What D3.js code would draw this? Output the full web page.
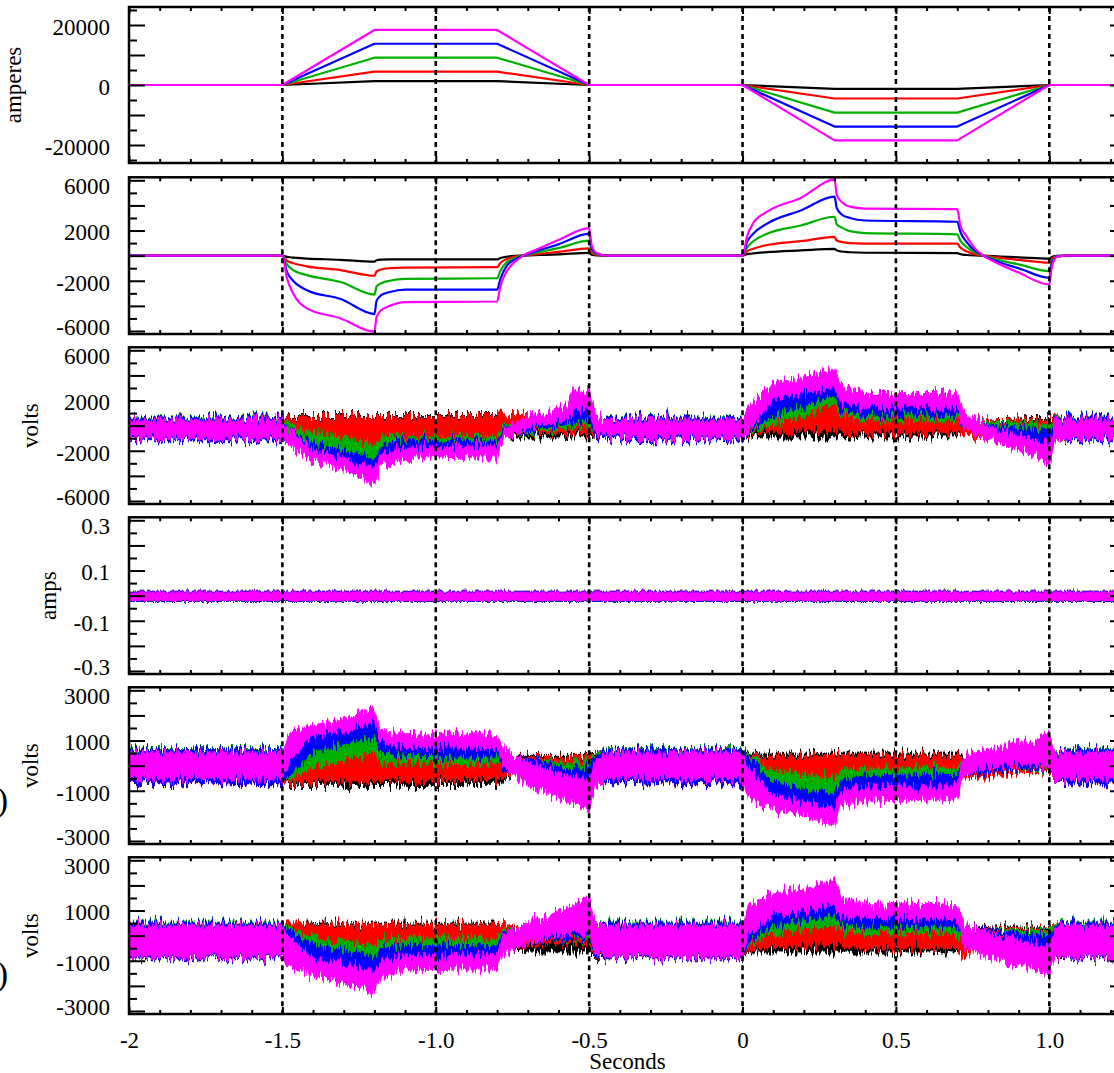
<!DOCTYPE html>
<html><head><meta charset="utf-8">
<script src="https://cdn.jsdelivr.net/npm/d3@7"></script>
<style>
body{margin:0;background:#fff}
svg{display:block}
</style>
</head><body>
<svg id="c" width="1114" height="1073"></svg>
<script>
// ---------------- DATA ----------------
const seriesNames = ["black","red","green","blue","magenta"];
const seriesColors = ["#000000","#ff0000","#00b000","#0000ff","#ff00ff"];
const dashTimes = [-1.5,-1.0,-0.5,0,0.5,1.0];
const xTickValues = [-2,-1.5,-1,-0.5,0,0.5,1];
const xTickLabels = ["-2","-1.5","-1.0","-0.5","0","0.5","1.0"];

// Panel 1: amperes
const T1 = [-2,-1.5,-1.2,-0.8,-0.5,0,0.3,0.7,1.0,1.25];
const amp1Black   = [0,0,1300,1300,0,0,-1300,-1300,0,0];
const amp1Red     = [0,0,4450,4450,0,0,-4500,-4500,0,0];
const amp1Green   = [0,0,9100,9100,0,0,-9200,-9200,0,0];
const amp1Blue    = [0,0,13750,13750,0,0,-13850,-13850,0,0];
const amp1Magenta = [0,0,18350,18350,0,0,-18450,-18450,0,0];
const yLabels1 = [20000,0,-20000];

// Panel 2
const T2 = [-2,-1.5,-1.485,-1.465,-1.42,-1.31,-1.2,-1.193,-1.178,-1.15,-1.1,-0.8,-0.79,-0.77,-0.74,-0.715,-0.66,-0.6,-0.5,-0.492,-0.475,-0.44,
            0,0.015,0.035,0.08,0.19,0.3,0.307,0.322,0.35,0.4,0.7,0.71,0.73,0.76,0.785,0.84,0.9,1.0,1.008,1.025,1.06,1.25];
const p2Black   = [0,0,-100,-160,-230,-330,-480,-370,-320,-300,-300,-300,-200,-90,-20,0,50,100,220,80,20,0,
                   0,120,180,280,420,540,420,330,270,230,200,120,50,10,0,-70,-130,-240,-100,-10,0,0];
const p2Red     = [0,0,-400,-600,-850,-1150,-1600,-1250,-1100,-1000,-950,-920,-600,-280,-80,0,150,300,580,200,50,0,
                   0,350,550,850,1150,1500,1200,1100,1000,960,950,650,350,100,0,-180,-330,-560,-230,-30,0,0];
const p2Green   = [0,0,-700,-1150,-1550,-2100,-3100,-2450,-2200,-2000,-1850,-1800,-1250,-550,-170,0,300,600,1200,420,100,0,
                   0,650,1150,1750,2400,3100,2500,2250,1950,1800,1700,1200,700,220,0,-380,-700,-1230,-500,-60,0,0];
const p2Blue    = [0,0,-1300,-2000,-2750,-3450,-4650,-3600,-3150,-2900,-2700,-2700,-1900,-850,-280,0,450,900,1750,650,150,0,
                   0,1100,1750,2550,3600,4700,3800,3300,3000,2800,2700,1900,1100,350,0,-550,-1000,-1760,-700,-80,0,0];
const p2Magenta = [0,0,-1800,-3000,-4200,-5000,-6050,-4900,-4350,-4000,-3700,-3650,-2500,-1300,-450,0,600,1250,2200,850,200,0,
                   0,1550,2600,3500,4600,6050,4850,4300,3900,3750,3700,2400,1550,500,0,-700,-1350,-2300,-900,-100,0,0];
const yLabels2 = [6000,2000,-2000,-6000];

// Noisy panels share these knot times (envelopes of each trace's noise band)
const TN = [-2,-1.5,-1.48,-1.4,-1.3,-1.2,-1.18,-1.1,-0.8,-0.78,-0.7,-0.57,-0.55,-0.5,-0.48,-0.44,
            0,0.02,0.1,0.2,0.3,0.32,0.4,0.7,0.72,0.8,0.95,1.0,1.02,1.06,1.25];

// Panel 3 (volts)
const p3BlackLo   = [-1100,-1100,-700,-700,-700,-700,-700,-700,-700,-900,-900,-900,-900,-900,-1000,-1100,
                     -1100,-900,-900,-900,-900,-900,-900,-900,-760,-100,40,40,-1000,-1100,-1100];
const p3BlackHi   = [600,600,800,800,800,800,800,800,800,300,-100,-100,-100,-100,500,600,
                     600,-100,-100,-100,-100,-100,-100,-100,440,440,570,570,550,600,600];
const p3RedLo     = [-1150,-1150,-800,-1400,-1600,-2000,-1500,-1300,-1300,-700,-620,-620,-620,-620,-1000,-1150,
                     -1150,-620,-490,-420,-360,-490,-620,-620,-890,-1100,-100,40,-1000,-1150,-1150];
const p3RedHi     = [650,650,700,700,700,700,700,700,700,950,800,40,40,40,600,650,
                     650,570,840,1250,1630,1100,840,840,440,440,440,440,600,650,650];
const p3GreenLo   = [-1100,-1100,-900,-1500,-2000,-2610,-1700,-1400,-1400,-560,-600,-150,-100,40,-900,-1100,
                     -1100,-490,40,900,1630,840,440,440,-100,-490,-1150,-1290,-900,-1100,-1100];
const p3GreenHi   = [700,700,175,-620,-860,-1690,-1020,-890,-800,40,170,900,970,1100,500,700,
                     700,700,1770,2100,2560,1370,970,970,440,300,170,40,500,700,700];
const p3BlueLo    = [-1200,-1200,-1300,-2200,-2800,-3500,-2400,-1900,-1800,-760,-400,100,175,440,-900,-1200,
                     -1200,-360,700,1600,2430,1230,840,840,-220,-760,-1690,-2040,-600,-1200,-1200];
const p3BlueHi    = [650,650,-300,-1420,-2000,-2610,-1690,-1150,-1150,-220,370,1150,1230,1370,500,650,
                     650,1100,2560,2900,3490,2030,1630,1630,570,40,-220,-360,440,650,650];
const p3MagentaLo = [-1000,-1000,-1500,-2880,-3550,-4600,-3150,-2600,-2480,-1150,-100,400,1200,1150,-600,-1000,
                     -1000,-360,2170,2560,3090,1900,1500,1430,-220,-1150,-2350,-3145,-1100,-1000,-1000];
const p3MagentaHi = [450,450,-300,-1950,-2600,-3400,-2300,-1800,-1550,-360,700,1600,2850,2850,1000,450,
                     450,1500,3360,3900,4550,3220,2560,2560,1100,-100,-1150,-1420,400,450,450];
const yLabels3 = [6000,2000,-2000,-6000];

// Panel 4 (amps)
const T4 = [-2,1.25];
const p4OtherLo = [-0.022,-0.022];
const p4OtherHi = [0.017,0.017];
const p4MagentaLo = [-0.019,-0.019];
const p4MagentaHi = [0.014,0.014];
const yLabels4 = [0.3,0.1,-0.1,-0.3];

// Panel 5 (volts)
const p5BlackLo   = [-700,-700,-782,-782,-782,-782,-782,-782,-782,-584,80,80,80,80,-650,-700,
                     -700,0,0,0,0,0,0,0,-300,-250,-250,-250,-650,-700,-700];
const p5BlackHi   = [650,650,-100,-100,-100,-100,-100,-100,-100,410,410,410,410,410,550,650,
                     650,500,500,500,500,500,500,500,400,150,150,150,550,650,650];
const p5RedLo     = [-720,-720,-716,-650,-620,-584,-584,-584,-584,-451,-120,13,13,13,-700,-720,
                     -720,-700,-700,-750,-800,-600,-600,-600,-500,-400,-250,-200,-700,-720,-720];
const p5RedHi     = [600,600,345,13,200,610,146,146,146,345,345,345,345,345,500,600,
                     600,420,400,400,400,400,400,400,300,250,300,300,550,600,600];
const p5GreenLo   = [-650,-650,-584,-53,212,543,146,80,80,-186,-318,-430,-451,-584,-650,-650,
                     -650,-700,-800,-950,-1150,-650,-500,-500,-300,-250,-150,-100,-650,-650,-650];
const p5GreenHi   = [680,680,477,543,875,1140,543,371,345,280,212,150,146,146,500,680,
                     680,400,-200,-350,-500,-200,-100,-100,200,250,350,450,550,680,680];
const p5BlueLo    = [-700,-700,-451,543,875,1140,543,371,345,-252,-385,-560,-584,-650,-700,-700,
                     -700,-900,-1300,-1500,-1800,-1100,-950,-900,-400,-300,-100,0,-700,-700,-700];
const p5BlueHi    = [650,650,740,1270,1500,1740,940,740,680,345,280,-110,-120,-53,400,650,
                     650,300,-700,-900,-1100,-550,-400,-350,150,250,500,600,500,650,650];
const p5MagentaLo = [-520,-520,100,1205,1405,1740,940,740,680,-53,-780,-1450,-1513,-1712,-849,-520,
                     -520,-1300,-1700,-2000,-2400,-1550,-1400,-1350,-400,-150,100,-100,-700,-520,-520];
const p5MagentaHi = [540,540,1300,1600,1870,2270,1405,1270,1270,740,80,-420,-451,-584,212,540,
                     540,-100,-1200,-1450,-1800,-1000,-850,-800,400,650,1000,1300,450,540,540];
const yLabels5 = [3000,1000,-1000,-3000];

// Panel 6 (volts)
const p6BlackLo   = [-920,-920,-200,-200,-200,-200,-200,-200,-200,-500,-650,-650,-650,-650,-900,-920,
                     -920,-650,-650,-650,-650,-650,-650,-650,146,146,146,146,-900,-920,-920];
const p6BlackHi   = [450,450,500,500,500,500,500,500,500,300,0,0,0,0,450,450,
                     450,-100,-100,-100,-100,-100,-100,-100,345,345,345,345,450,450,450];
const p6RedLo     = [-900,-900,-800,-800,-900,-1000,-800,-800,-800,-600,-400,-300,-300,-300,-850,-900,
                     -900,-600,-450,-420,-400,-450,-517,-517,-900,-186,13,13,-850,-900,-900];
const p6RedHi     = [500,500,500,450,450,450,450,450,450,450,300,250,250,250,500,500,
                     500,400,600,700,800,500,300,300,212,280,280,280,500,500,500];
const p6GreenLo   = [-880,-880,-800,-700,-900,-1100,-700,-600,-600,-350,-250,-150,-150,-100,-800,-880,
                     -880,-400,100,250,400,200,80,80,-400,-318,-584,-584,-850,-880,-880];
const p6GreenHi   = [540,540,400,-100,-300,-400,-150,-100,-100,250,350,520,550,650,500,540,
                     540,600,900,1050,1200,700,550,500,300,212,212,212,500,540,540];
const p6BlueLo    = [-900,-900,-900,-1100,-1350,-1600,-1100,-950,-950,-500,-300,-100,-100,0,-800,-900,
                     -900,-300,400,600,800,450,345,345,-300,-517,-716,-716,-850,-900,-900];
const p6BlueHi    = [500,500,300,-400,-600,-800,-500,-400,-400,150,400,750,800,950,450,500,
                     500,800,1200,1400,1600,1000,850,800,350,212,13,-53,450,500,500];
const p6MagentaLo = [-850,-850,-1200,-1600,-1900,-2300,-1700,-1400,-1350,-700,-300,100,100,100,-700,-850,
                     -850,0,800,1000,1250,800,700,680,-450,-849,-1380,-1580,-849,-850,-850];
const p6MagentaHi = [410,410,0,-900,-1100,-1450,-1000,-800,-750,50,500,1100,1200,1600,500,410,
                     410,1200,1700,1900,2200,1500,1300,1270,480,80,-318,-451,410,410,410];
const yLabels6 = [3000,1000,-1000,-3000];

// ---------------- DRAWING ----------------
const FONT = "'Liberation Serif','Times New Roman',Times,serif";
const svg = d3.select("#c");
const X0 = 129, X1 = 1126;
const x = d3.scaleLinear().domain([-2,1.25]).range([X0,X1]);

const defs = svg.append("defs");
function makeNoiseFilter(id, freq, scale, seed){
  const f = defs.append("filter").attr("id",id).attr("filterUnits","userSpaceOnUse")
    .attr("x",0).attr("y",0).attr("width",1114).attr("height",1073)
    .attr("color-interpolation-filters","sRGB");
  f.append("feTurbulence").attr("type","fractalNoise").attr("baseFrequency",freq)
    .attr("numOctaves",2).attr("seed",seed).attr("result","t");
  f.append("feColorMatrix").attr("in","t").attr("type","matrix")
    .attr("values","0 0 0 0 0.5  0 1 0 0 0  0 0 0 0 0  0 0 0 0 1").attr("result","m");
  f.append("feDisplacementMap").attr("in","SourceGraphic").attr("in2","m")
    .attr("scale",scale).attr("xChannelSelector","R").attr("yChannelSelector","G");
}
makeNoiseFilter("noisyBig","0.45 0.04",22,7);
makeNoiseFilter("noisySmall","0.45 0.04",6,3);

function lineLayer(T, arrs, curve){
  return (g,y)=>{
    const line = d3.line().x((d,i)=>x(T[i])).y(d=>y(d)).curve(curve||d3.curveLinear);
    arrs.forEach((a,k)=>{
      g.append("path").attr("d",line(a)).attr("fill","none")
       .attr("stroke",seriesColors[k]).attr("stroke-width",2.2).attr("stroke-linejoin","round");
    });
  };
}
function bandLayer(T, los, his, filterId){
  return (g,y)=>{
    const area = d3.area().x(d=>x(d[0])).y0(d=>y(d[1])).y1(d=>y(d[2]));
    const fg = g.append("g").attr("filter",`url(#${filterId})`);
    los.forEach((lo,k)=>{
      const pts = T.map((t,i)=>[t, lo[i], his[k][i]]);
      fg.append("path").attr("d",area(pts)).attr("fill",seriesColors[k])
       .attr("stroke",seriesColors[k]).attr("stroke-width",1);
    });
  };
}

const panels = [
  {top:7, bottom:163, half:26000, major:10000, minor:5000, labels:yLabels1, title:"amperes", titleX:21, shiftEnds:false,
   draw: lineLayer(T1,[amp1Black,amp1Red,amp1Green,amp1Blue,amp1Magenta])},
  {top:177.3, bottom:334, half:6240, major:2000, minor:1000, labels:yLabels2, title:null, shiftEnds:true,
   draw: lineLayer(T2,[p2Black,p2Red,p2Green,p2Blue,p2Magenta], d3.curveMonotoneX)},
  {top:347.3, bottom:504, half:6240, major:2000, minor:1000, labels:yLabels3, title:"volts", titleX:38, shiftEnds:true,
   draw: bandLayer(TN,[p3BlackLo,p3RedLo,p3GreenLo,p3BlueLo,p3MagentaLo],[p3BlackHi,p3RedHi,p3GreenHi,p3BlueHi,p3MagentaHi],"noisyBig")},
  {top:517.3, bottom:674, half:0.312, major:0.1, minor:0.05, labels:yLabels4, title:"amps", titleX:56, shiftEnds:true,
   draw: bandLayer(T4,[p4OtherLo,p4OtherLo,p4OtherLo,p4OtherLo,p4MagentaLo],[p4OtherHi,p4OtherHi,p4OtherHi,p4OtherHi,p4MagentaHi],"noisySmall")},
  {top:687.3, bottom:844, half:3120, major:1000, minor:500, labels:yLabels5, title:"volts", titleX:38, shiftEnds:true,
   draw: bandLayer(TN,[p5BlackLo,p5RedLo,p5GreenLo,p5BlueLo,p5MagentaLo],[p5BlackHi,p5RedHi,p5GreenHi,p5BlueHi,p5MagentaHi],"noisyBig")},
  {top:857.3, bottom:1014, half:3120, major:1000, minor:500, labels:yLabels6, title:"volts", titleX:38, shiftEnds:true,
   draw: bandLayer(TN,[p6BlackLo,p6RedLo,p6GreenLo,p6BlueLo,p6MagentaLo],[p6BlackHi,p6RedHi,p6GreenHi,p6BlueHi,p6MagentaHi],"noisyBig")}
];

function styleAxis(sel){
  sel.select(".domain").remove();
  sel.selectAll(".tick line").attr("stroke","#000").attr("stroke-width",2);
}

panels.forEach((p,i)=>{
  const y = d3.scaleLinear().domain([-p.half,p.half]).range([p.bottom,p.top]);
  const g = svg.append("g");
  defs.append("clipPath").attr("id","clip"+i).append("rect")
    .attr("x",X0).attr("y",p.top).attr("width",X1-X0).attr("height",p.bottom-p.top);
  const dg = g.append("g").attr("clip-path",`url(#clip${i})`);
  p.draw(dg,y);

  dashTimes.forEach(t=>{
    g.append("line").attr("x1",x(t)).attr("x2",x(t)).attr("y1",p.top).attr("y2",p.bottom)
      .attr("stroke","#000").attr("stroke-width",2.6).attr("stroke-dasharray","5,4");
  });

  const nMin = Math.round(p.half/p.minor);
  const allY = d3.range(-nMin,nMin+1).map(k=>+(k*p.minor).toFixed(6));
  const majY = allY.filter(v=>Math.abs(Math.round(v/p.major)*p.major - v) < p.minor*0.01);
  const minY = allY.filter(v=>!majY.includes(v));
  const allX = d3.range(-20,13).map(k=>+(k/10).toFixed(2));
  const majX = allX.filter(v=>Math.abs(Math.round(v*2)/2 - v) < 1e-6);
  const minX = allX.filter(v=>!majX.includes(v));

  g.append("g").attr("transform",`translate(${X0},0)`).call(d3.axisLeft(y).tickValues(majY).tickSize(-16).tickFormat("")).call(styleAxis);
  g.append("g").attr("transform",`translate(${X0},0)`).call(d3.axisLeft(y).tickValues(minY).tickSize(-8).tickFormat("")).call(styleAxis);
  g.append("g").attr("transform",`translate(${X1},0)`).call(d3.axisRight(y).tickValues(majY).tickSize(-16).tickFormat("")).call(styleAxis);
  g.append("g").attr("transform",`translate(${X1},0)`).call(d3.axisRight(y).tickValues(minY).tickSize(-8).tickFormat("")).call(styleAxis);
  g.append("g").attr("transform",`translate(0,${p.top})`).call(d3.axisTop(x).tickValues(majX).tickSize(-7).tickFormat("")).call(styleAxis);
  g.append("g").attr("transform",`translate(0,${p.top})`).call(d3.axisTop(x).tickValues(minX).tickSize(-4).tickFormat("")).call(styleAxis);
  g.append("g").attr("transform",`translate(0,${p.bottom})`).call(d3.axisBottom(x).tickValues(majX).tickSize(-7).tickFormat("")).call(styleAxis);
  g.append("g").attr("transform",`translate(0,${p.bottom})`).call(d3.axisBottom(x).tickValues(minX).tickSize(-4).tickFormat("")).call(styleAxis);

  const la = g.append("g").attr("transform",`translate(${X0},0)`)
    .call(d3.axisLeft(y).tickValues(p.labels).tickSize(0).tickPadding(19).tickFormat(d=>String(d)));
  la.select(".domain").remove();
  la.attr("font-family",FONT).attr("font-size",23);
  la.selectAll(".tick text").attr("fill","#000").attr("dy","0.36em");
  la.selectAll(".tick").each(function(d){
    let off = 1.5;
    if(p.shiftEnds){
      if(d===d3.max(p.labels)) off = 5;
      if(d===d3.min(p.labels)) off = -4;
    }
    d3.select(this).attr("transform",`translate(0,${y(d)+off})`);
  });

  g.append("rect").attr("x",X0).attr("y",p.top).attr("width",X1-X0).attr("height",p.bottom-p.top)
    .attr("fill","none").attr("stroke","#000").attr("stroke-width",2.5);

  if(p.title){
    svg.append("text").attr("transform",`translate(${p.titleX},${(p.top+p.bottom)/2}) rotate(-90)`)
      .attr("text-anchor","middle").attr("font-family",FONT).attr("font-size",23).attr("fill","#000")
      .text(p.title);
  }

  if(i===panels.length-1){
    const xa = g.append("g").attr("transform",`translate(0,${p.bottom})`)
      .call(d3.axisBottom(x).tickValues(xTickValues).tickSize(0).tickPadding(18).tickFormat((d,k)=>xTickLabels[k]));
    xa.select(".domain").remove();
    xa.attr("font-family",FONT).attr("font-size",23);
    xa.selectAll(".tick text").attr("fill","#000");
  }
});

svg.append("text").attr("x",(X0+X1)/2).attr("y",1069).attr("text-anchor","middle")
  .attr("font-family",FONT).attr("font-size",23).attr("fill","#000").text("Seconds");

// partially visible panel markers at the left edge (cut off in the original as well)
[811, 985].forEach(yy=>{
  svg.append("text").attr("x",8).attr("y",yy).attr("text-anchor","end")
    .attr("font-family",FONT).attr("font-size",34).attr("fill","#000").text(")");
});
</script>
</body></html>
